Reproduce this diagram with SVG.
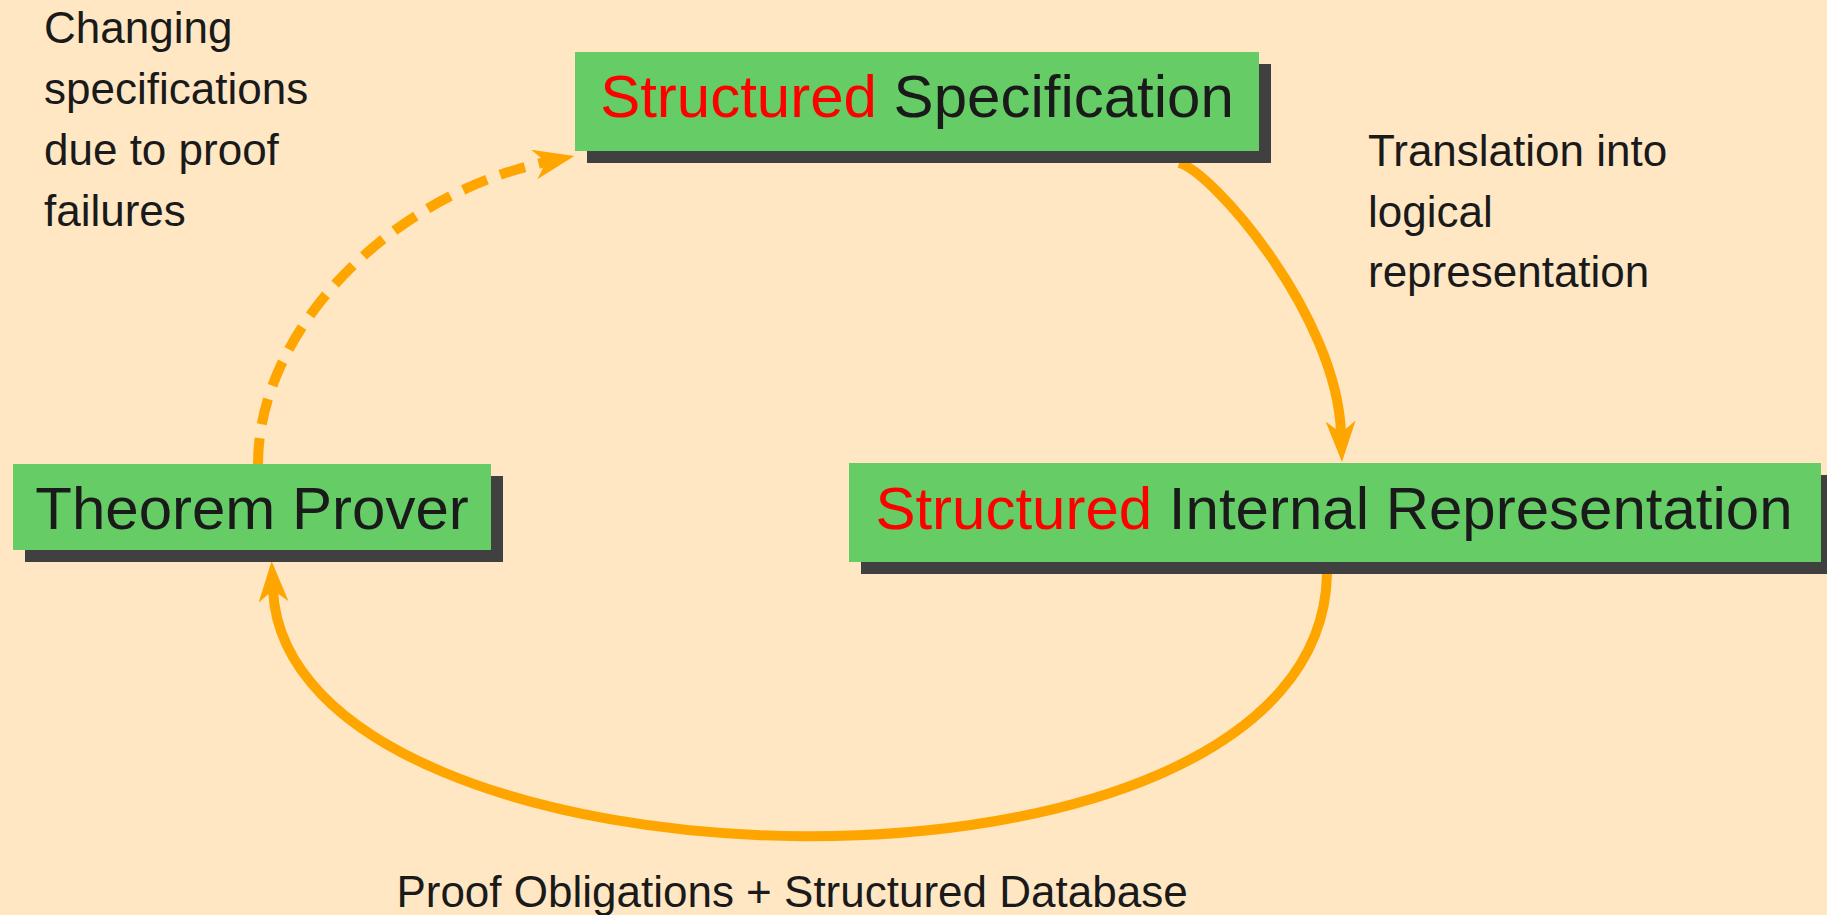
<svg xmlns="http://www.w3.org/2000/svg" width="1827" height="915" viewBox="0 0 1827 915">
  <defs>
    <style>
      .bg { fill: #FFE7C4; }
      .box { fill: #66CC66; }
      .shadow { fill: #404040; }
      .title { font-family: "Liberation Sans", Arial, sans-serif; font-size: 60px; fill: #1a1a1a; }
      .hl { fill: #FF0000; }
      .note { font-family: "Liberation Sans", Arial, sans-serif; font-size: 44px; fill: #1a1a1a; }
      .flow { fill: none; stroke: #FFA500; stroke-width: 10; marker-end: url(#head); }
      .dashed { stroke-dasharray: 26 14; }
    </style>
    <marker id="head" viewBox="0 -15 41 30" refX="12" refY="0" markerWidth="41" markerHeight="30" markerUnits="userSpaceOnUse" orient="auto">
      <path d="M0,-15 L41,0 L0,15 L12,0 Z" fill="#FFA500"/>
    </marker>
  </defs>

  <rect class="bg" x="0" y="0" width="1827" height="915"/>

  <!-- connectors -->
  <g id="connectors">
    <path id="spec-to-internal" class="flow" d="M1179,163 C1212,171 1337,315 1341,433"/>
    <path id="internal-to-prover" class="flow" d="M1327,574 C1320,935 288,907 273,590"/>
    <path id="prover-to-spec" class="flow dashed" d="M258,464 C258,330 390,195 546,162"/>
  </g>

  <!-- nodes -->
  <g id="structured-specification">
    <rect class="shadow" x="587" y="64" width="684" height="99"/>
    <rect class="box" x="575" y="52" width="684" height="99"/>
    <text class="title" x="917" y="117" text-anchor="middle"><tspan class="hl">Structured</tspan> Specification</text>
  </g>

  <g id="theorem-prover">
    <rect class="shadow" x="25" y="476" width="478" height="86"/>
    <rect class="box" x="13" y="464" width="478" height="86"/>
    <text class="title" x="252" y="529" text-anchor="middle">Theorem Prover</text>
  </g>

  <g id="structured-internal-representation">
    <rect class="shadow" x="861" y="475" width="972" height="99"/>
    <rect class="box" x="849" y="463" width="972" height="99"/>
    <text class="title" x="1334" y="529" text-anchor="middle"><tspan class="hl">Structured</tspan> Internal Representation</text>
  </g>

  <!-- edge annotations -->
  <g id="label-changing">
    <text class="note" x="44" y="43">Changing</text>
    <text class="note" x="44" y="104">specifications</text>
    <text class="note" x="44" y="165">due to proof</text>
    <text class="note" x="44" y="226">failures</text>
  </g>

  <g id="label-translation">
    <text class="note" x="1368" y="166">Translation into</text>
    <text class="note" x="1368" y="227">logical</text>
    <text class="note" x="1368" y="287">representation</text>
  </g>

  <g id="label-obligations">
    <text class="note" x="792" y="907" text-anchor="middle">Proof Obligations + Structured Database</text>
  </g>
</svg>
